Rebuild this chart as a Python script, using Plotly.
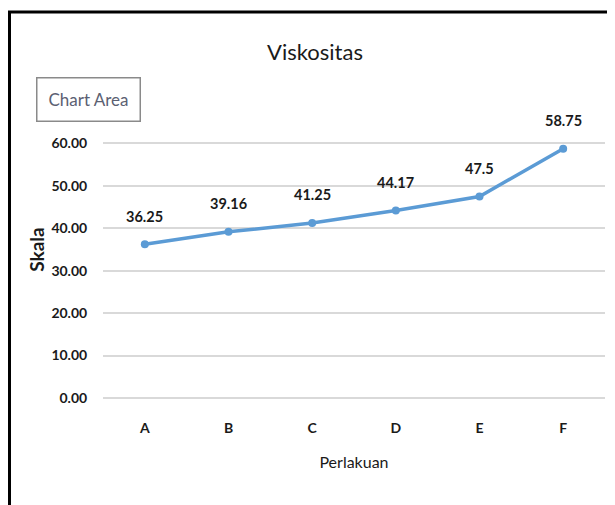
import plotly.graph_objects as go

categories = ["A", "B", "C", "D", "E", "F"]
values = [36.25, 39.16, 41.25, 44.17, 47.5, 58.75]
y_ticks = [0, 10, 20, 30, 40, 50, 60, 70]
# the 70.00 label is hidden behind the "Chart Area" tooltip in the reference
y_tick_labels = ["0.00", "10.00", "20.00", "30.00", "40.00", "50.00", "60.00", ""]

FONT = "Lato, Roboto, sans-serif"
LINE = "#5B9BD5"
TXT = "#1a1a1a"

# The page body has an 8px margin; figure pixels = reference pixels - 8.
W, H = 607, 497
PL, PR, PT, PB = 103, 605, 101, 398  # plot area in reference pixels
PW, PH = PR - PL, PB - PT


def px(xr):
    return (xr - PL) / PW


def py(yr):
    return (PB - yr) / PH


fig = go.Figure()
fig.add_trace(go.Scatter(
    x=categories, y=values, mode="lines+markers",
    line=dict(color=LINE, width=3.5),
    marker=dict(color=LINE, size=8),
    hoverinfo="skip", showlegend=False,
))

annotations = [
    dict(x=c, y=v, text=str(v), showarrow=False, yshift=28,
         font=dict(family=FONT, size=14.5, color=TXT, weight="bold"))
    for c, v in zip(categories, values)
]
annotations.append(dict(
    xref="paper", yref="paper", x=px(88.5), y=py(100),
    xanchor="center", yanchor="middle", text="Chart Area", showarrow=False,
    font=dict(family=FONT, size=17, color="#5b6072"),
    bgcolor="white", bordercolor="#8a8a8a", borderwidth=1.5, borderpad=1,
    width=100, height=40,
))

fig.update_layout(
    width=W, height=H,
    margin=dict(l=PL - 8, r=W - (PR - 8), t=PT - 8, b=H - (PB - 8)),
    paper_bgcolor="white", plot_bgcolor="white",
    title=dict(text="Viskositas", x=(315 - 8) / W, xanchor="center",
               y=1 - (52 - 8) / H, yanchor="middle",
               font=dict(family=FONT, size=22, color=TXT)),
    xaxis=dict(
        type="category", range=[-0.5, 5.5], showgrid=False, zeroline=False,
        showline=False, ticks="outside", ticklen=17, tickcolor="rgba(0,0,0,0)",
        tickfont=dict(family=FONT, size=14, color=TXT, weight="bold"),
        title=dict(text="Perlakuan", standoff=22,
                   font=dict(family=FONT, size=16, color=TXT)),
    ),
    yaxis=dict(
        range=[0, 70], tickvals=y_ticks, ticktext=y_tick_labels,
        showgrid=True, gridcolor="#d9d9d9", gridwidth=1.5,
        zeroline=True, zerolinecolor="#d9d9d9", zerolinewidth=1.5,
        showline=False, ticks="outside", ticklen=12, tickcolor="rgba(0,0,0,0)",
        tickfont=dict(family=FONT, size=14, color=TXT, weight="bold"),
        title=dict(text="Skala", standoff=1,
                   font=dict(family=FONT, size=19, color=TXT, weight="bold")),
    ),
    annotations=annotations,
    shapes=[dict(
        type="rect", xref="paper", yref="paper",
        x0=px(9.5), x1=px(650), y0=py(540), y1=py(12),
        line=dict(color="black", width=3), fillcolor="rgba(0,0,0,0)",
    )],
)

fig.write_html("out.html")
